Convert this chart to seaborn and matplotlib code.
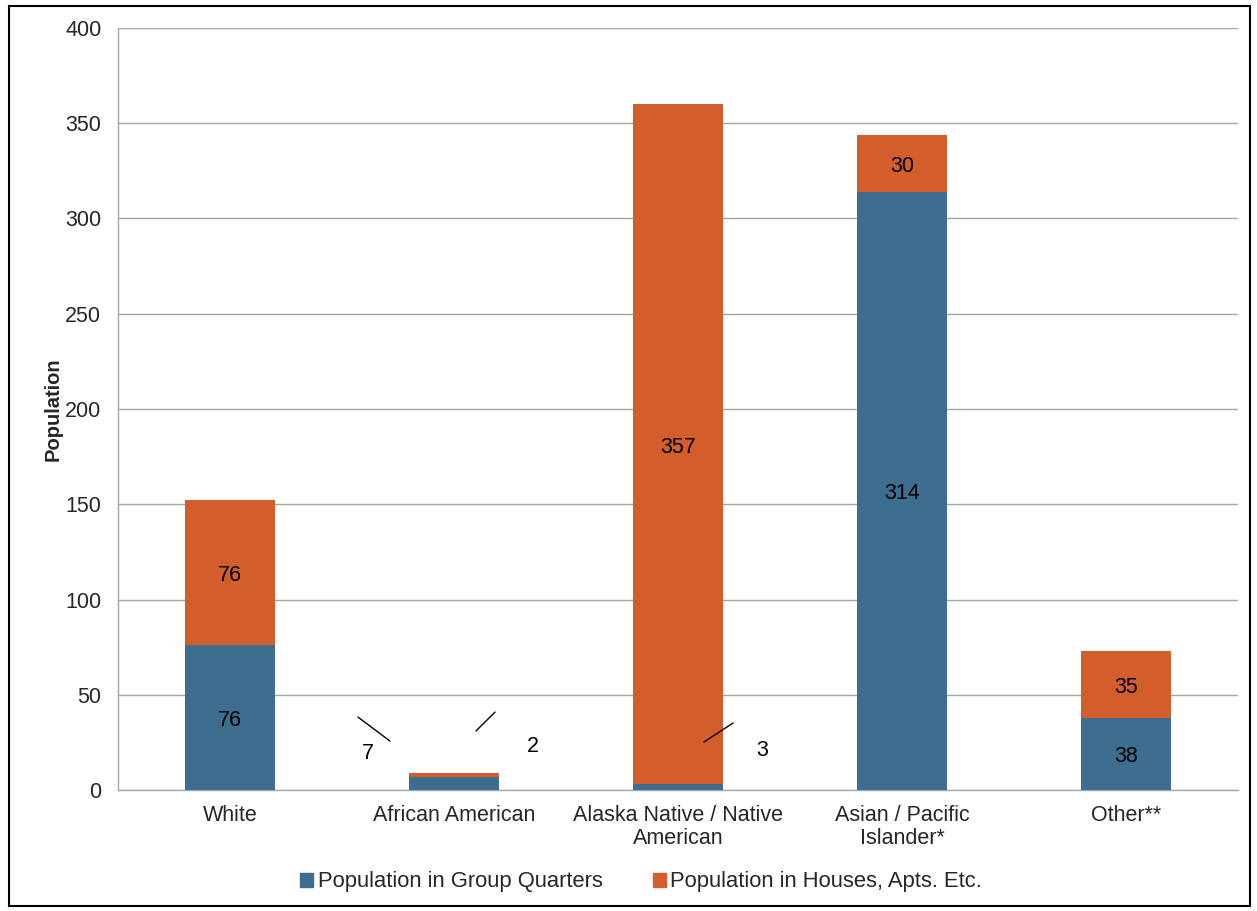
import numpy as np
import pandas as pd
import seaborn as sns
import matplotlib.pyplot as plt
from matplotlib.patches import Patch, Rectangle

# data
categories = ['White', 'African American', 'Alaska Native / Native\nAmerican',
              'Asian / Pacific\nIslander*', 'Other**']
group_quarters = [76, 7, 3, 314, 38]
houses_apts = [76, 2, 357, 30, 35]

series_names = ['Population in Group Quarters', 'Population in Houses, Apts. Etc.']
blue = '#3D6E8F'
orange = '#D35E2B'

# small segments get an outside label with a leader line: (label x, label y, line start, line end)
callouts = {
    (1, 0): (0.616, 19, (0.571, 38.3), (0.714, 25.7)),
    (1, 1): (1.353, 22.6, (1.098, 31.0), (1.183, 40.9)),
    (2, 0): (2.375, 20.5, (2.116, 25.2), (2.246, 35.2)),
}

df = pd.DataFrame({'category': categories,
                   'gq': group_quarters,
                   'houses': houses_apts})
df['total'] = df['gq'] + df['houses']

sns.set_style('white')
plt.rcParams['font.family'] = ['Liberation Sans', 'DejaVu Sans']

fig = plt.figure(figsize=(12.57, 9.11), dpi=100)
ax = fig.add_axes([0.0939, 0.1328, 0.8910, 0.8365])

# stacked look: draw totals first, group quarters on top
sns.barplot(data=df, x='category', y='total', color=orange, saturation=1,
            width=0.4, ax=ax, zorder=3, linewidth=0)
sns.barplot(data=df, x='category', y='gq', color=blue, saturation=1,
            width=0.4, ax=ax, zorder=3, linewidth=0)

fs = 15.5
for i, row in df.iterrows():
    segs = [(row['gq'] / 2, row['gq']), (row['gq'] + row['houses'] / 2, row['houses'])]
    for j, (yc, v) in enumerate(segs):
        if (i, j) in callouts:
            lx, ly, p0, p1 = callouts[(i, j)]
            ax.text(lx, ly, str(v), ha='center', va='center', fontsize=fs, color='black')
            ax.plot([p0[0], p1[0]], [p0[1], p1[1]], color='black', lw=1, zorder=4)
        else:
            ax.text(i, yc - 1.5, str(v), ha='center', va='center', fontsize=fs,
                    color='black', zorder=5)

ax.set_xlim(-0.5, len(categories) - 0.5)
ax.set_ylim(0, 400)
ax.set_yticks(np.arange(0, 401, 50))
ax.yaxis.grid(True, color='#A6A6A6', lw=1)
ax.set_axisbelow(True)

ax.set_xticks(np.arange(len(categories)))
ax.set_xticklabels(categories, fontsize=fs, linespacing=1.1)
ax.set_xticks(np.arange(-0.5, len(categories)), minor=True)
ax.tick_params(axis='x', which='major', length=0, pad=11)
ax.tick_params(axis='x', which='minor', length=8, color='#A6A6A6', width=1, direction='out')
ax.tick_params(axis='y', length=6, color='#A6A6A6', width=1, direction='out',
               labelsize=fs, pad=6)
ax.set_xlabel('')
ax.set_ylabel('Population', fontsize=14.5, fontweight='bold', labelpad=2)

for s in ['top', 'right']:
    ax.spines[s].set_visible(False)
for s in ['left', 'bottom']:
    ax.spines[s].set_color('#A6A6A6')
    ax.spines[s].set_linewidth(1)

handles = [Patch(color=blue, label=series_names[0]),
           Patch(color=orange, label=series_names[1])]
fig.legend(handles=handles, loc='center', bbox_to_anchor=(0.51, 0.032), ncol=2,
           frameon=False, fontsize=15.8, handlelength=0.6, handleheight=0.6,
           handletextpad=0.2, columnspacing=2.3)

# outer border around the whole chart
fig.patches.append(Rectangle((0.0068, 0.006), 0.988, 0.9877, transform=fig.transFigure,
                             fill=False, edgecolor='black', lw=1.5))

fig.savefig('out.png', dpi=100)
